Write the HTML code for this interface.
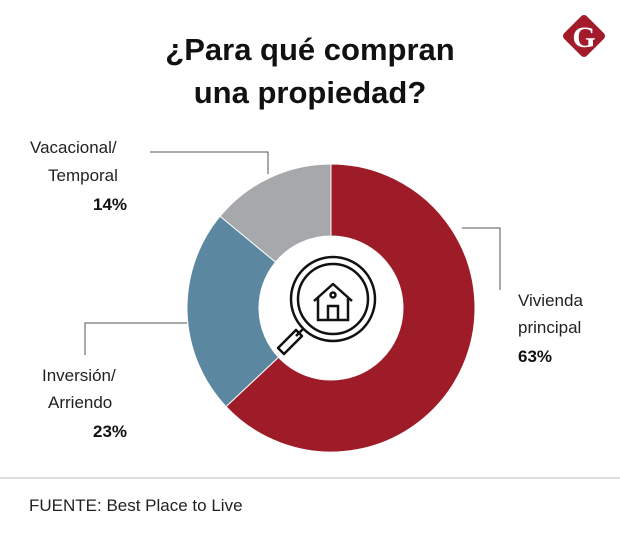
<!DOCTYPE html>
<html><head><meta charset="utf-8">
<style>
body{margin:0;background:#fff;}
svg{display:block;font-family:"Liberation Sans",sans-serif;}
</style></head>
<body>
<svg id="chart" width="620" height="542" viewBox="0 0 620 542">
  <text x="310" y="60" text-anchor="middle" font-size="31" font-weight="bold" fill="#111">¿Para qué compran</text>
  <text x="310" y="103" text-anchor="middle" font-size="31" font-weight="bold" fill="#111">una propiedad?</text>
  <g>
    <rect x="568" y="20" width="32" height="32" rx="4" fill="#a31b2a" transform="rotate(45 584 36)"/>
    <text x="584" y="47" text-anchor="middle" font-size="30" font-weight="bold" font-family="Liberation Serif,serif" fill="#fff">G</text>
  </g>
  <g id="slices"></g>
  <g stroke="#555" stroke-width="1" fill="none">
    <polyline points="150,152 268,152 268,174"/>
    <polyline points="462,228 500,228 500,290"/>
    <polyline points="85,355 85,323 187,323"/>
  </g>
  <g stroke="#111" fill="none" stroke-width="2.5">
    <circle cx="333" cy="299" r="42"/>
    <circle cx="333" cy="299" r="35"/>
    <polyline points="314,301 333,284 352,301" stroke-linejoin="round"/>
    <polyline points="318,298 318,320 348,320 348,298"/>
    <polyline points="328,320 328,306 338,306 338,320"/>
    <circle cx="333" cy="295" r="2.5"/>
    <line x1="304" y1="328" x2="296" y2="336"/>
    <polygon points="296,330 302,336 284,354 278,348" stroke-linejoin="round"/>
  </g>
  <g font-size="17" fill="#222">
    <text x="30" y="153">Vacacional/</text>
    <text x="48" y="181">Temporal</text>
    <text x="93" y="210" font-weight="bold" fill="#111">14%</text>
  </g>
  <g font-size="17" fill="#222">
    <text x="518" y="306">Vivienda</text>
    <text x="518" y="333">principal</text>
    <text x="518" y="362" font-weight="bold" fill="#111">63%</text>
  </g>
  <g font-size="17" fill="#222">
    <text x="42" y="381">Inversión/</text>
    <text x="48" y="408">Arriendo</text>
    <text x="93" y="437" font-weight="bold" fill="#111">23%</text>
  </g>
  <line x1="0" y1="478" x2="620" y2="478" stroke="#bbb" stroke-width="1"/>
  <text x="29" y="511" font-size="17" fill="#222">FUENTE: Best Place to Live</text>
</svg>
<script>
const categories = ["Vivienda principal","Inversión/Arriendo","Vacacional/Temporal"];
const values = [63, 23, 14];
const colors = ["#9d1c27","#5b87a0","#a7a8ab"];
const cx=331, cy=308, R=144, r=72;
const g=document.getElementById('slices');
const total=values.reduce((a,b)=>a+b,0);
function pt(a,rad){return [cx+rad*Math.sin(a), cy-rad*Math.cos(a)];}
let ang=0;
values.forEach((v,i)=>{
  const a0=ang, a1=ang+v/total*2*Math.PI; ang=a1;
  const large=(a1-a0)>Math.PI?1:0;
  const [x0,y0]=pt(a0,R),[x1,y1]=pt(a1,R),[x2,y2]=pt(a1,r),[x3,y3]=pt(a0,r);
  const p=document.createElementNS('http://www.w3.org/2000/svg','path');
  p.setAttribute('d',`M${x0},${y0}A${R},${R} 0 ${large} 1 ${x1},${y1}L${x2},${y2}A${r},${r} 0 ${large} 0 ${x3},${y3}Z`);
  p.setAttribute('fill',colors[i]);
  p.setAttribute('stroke','#fff');
  p.setAttribute('stroke-width','1');
  
  
  g.appendChild(p);
});
</script>
</body></html>
